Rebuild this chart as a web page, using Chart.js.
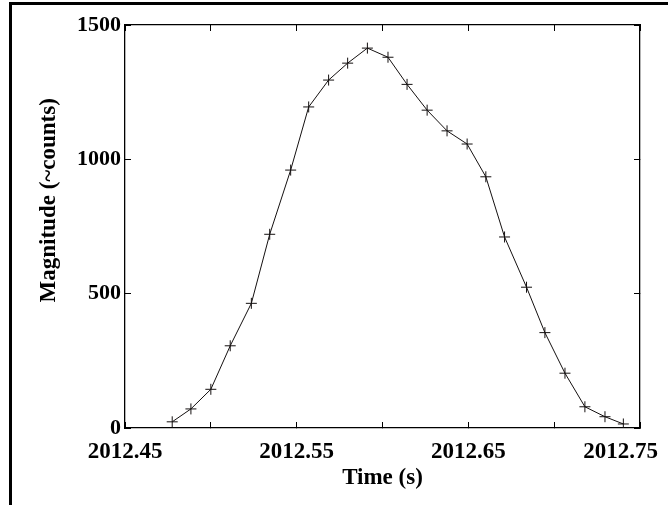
<!DOCTYPE html>
<html><head><meta charset="utf-8">
<script src="https://cdn.jsdelivr.net/npm/chart.js@4.4.1/dist/chart.umd.min.js"></script>
<style>
html,body{margin:0;padding:0;background:#fff;width:668px;height:505px;overflow:hidden}
#frame{position:absolute;left:9px;top:2px;width:700px;height:600px;border-top:3px solid #000;border-left:3px solid #000;box-sizing:border-box}
#c{position:absolute;left:0;top:0}
</style></head><body>
<div id="frame"></div>
<canvas id="c" width="668" height="505"></canvas>
<script>
// ---- data ----
const times = [2012.4775, 2012.4884, 2012.5000, 2012.5113, 2012.5236, 2012.5343, 2012.5465, 2012.5570,
               2012.5686, 2012.5797, 2012.5912, 2012.6032, 2012.6143, 2012.6260, 2012.6376, 2012.6493,
               2012.6602, 2012.6711, 2012.6839, 2012.6946, 2012.7063, 2012.7179, 2012.7296, 2012.7403];
const magnitudes = [23, 71, 144, 306, 464, 721, 960, 1195,
                    1295, 1358, 1414, 1380, 1279, 1183, 1106, 1057,
                    935, 711, 524, 355, 204, 79, 42, 15];
const xRange = [2012.45, 2012.75];
const yRange = [0, 1500];
const xTickStep = 0.05;
const yTickStep = 500;
const xTickLabels = [2012.45, 2012.55, 2012.65, 2012.75];
const xTitle = 'Time (s)';
const yTitle = 'Magnitude (~counts)';

const FONT = '"Liberation Serif", "Times New Roman", serif';

const points = times.map((t, i) => ({x: t, y: magnitudes[i]}));

const labelPlugin = {
  id: 'axisText',
  afterDraw(chart) {
    const {ctx, chartArea, width} = chart;
    const x = chart.scales.x;
    ctx.save();
    ctx.fillStyle = '#000';
    // x tick labels, kept inside the figure frame
    ctx.font = 'bold 23px ' + FONT;
    ctx.textBaseline = 'alphabetic';
    ctx.textAlign = 'center';
    xTickLabels.forEach(v => {
      const txt = v.toFixed(2);
      const w = ctx.measureText(txt).width;
      let px = x.getPixelForValue(v);
      px = Math.min(px, width - 10 - w / 2);
      px = Math.max(px, 10 + w / 2);
      ctx.fillText(txt, px, chartArea.bottom + 30);
    });
    // y axis title
    ctx.font = 'bold 23px ' + FONT;
    ctx.textBaseline = 'middle';
    ctx.textAlign = 'center';
    ctx.translate(49, chartArea.top + (chartArea.bottom - chartArea.top) * 0.435);
    ctx.rotate(-Math.PI / 2);
    ctx.fillText(yTitle, 0, 0);
    ctx.restore();
  }
};

const gridOpts = {drawOnChartArea: false, drawTicks: true, tickLength: -6, color: '#000', lineWidth: 1};
const borderOpts = {display: true, color: '#000', width: 1.3};

new Chart(document.getElementById('c'), {
  type: 'line',
  data: {
    datasets: [{
      data: points,
      borderColor: '#141010',
      borderWidth: 1,
      tension: 0,
      fill: false,
      pointStyle: 'cross',
      pointRadius: 5.5,
      pointBorderWidth: 1,
      pointBorderColor: '#141010',
      pointBackgroundColor: '#141010'
    }]
  },
  options: {
    responsive: false,
    devicePixelRatio: 1,
    animation: false,
    events: [],
    layout: {padding: 0},
    plugins: {legend: {display: false}, tooltip: {enabled: false}},
    scales: {
      x: {
        type: 'linear', position: 'bottom', min: xRange[0], max: xRange[1],
        ticks: {display: false, stepSize: xTickStep},
        grid: gridOpts, border: borderOpts,
        title: {display: true, text: xTitle, color: '#000',
                font: {family: FONT, size: 23, weight: 'bold'}, padding: {top: 0, bottom: 13.5}},
        afterFit(s) { s.height = 77; }
      },
      x2: {
        axis: 'x', type: 'linear', position: 'top', min: xRange[0], max: xRange[1],
        ticks: {display: false, stepSize: xTickStep},
        grid: gridOpts, border: borderOpts,
        afterFit(s) { s.height = 25; }
      },
      y: {
        type: 'linear', position: 'left', min: yRange[0], max: yRange[1],
        ticks: {stepSize: yTickStep, color: '#000', padding: 10,
                font: {family: FONT, size: 22, weight: 'bold'},
                callback: v => String(v)},
        grid: gridOpts, border: borderOpts,
        afterFit(s) { s.width = 125; }
      },
      y2: {
        axis: 'y', type: 'linear', position: 'right', min: yRange[0], max: yRange[1],
        ticks: {display: false, stepSize: yTickStep},
        grid: gridOpts, border: borderOpts,
        afterFit(s) { s.width = 28; }
      }
    }
  },
  plugins: [labelPlugin]
});
</script>
</body></html>
